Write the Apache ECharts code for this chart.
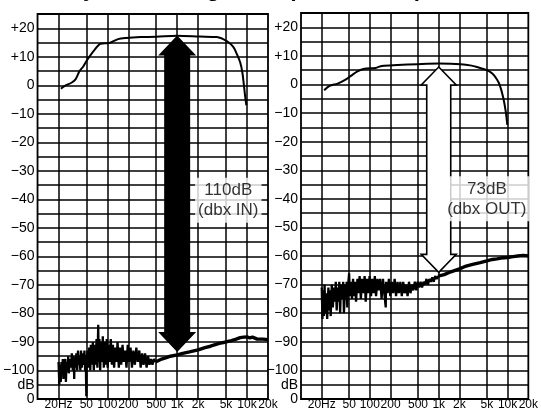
<html>
<head>
    <meta charset="UTF-8">
    <title>Dynamic range</title>
    <script src="https://cdn.jsdelivr.net/npm/echarts@6/dist/echarts.min.js"></script>
    <style>
        body { margin: 0; padding: 0; background: #fff; }
        #echart { width: 541px; height: 411px; }
    </style>
</head>
<body>
<div id="echart"></div>
<script>
    // frequency grid / labels
    const freqTicks = [20, 50, 100, 200, 500, 1000, 2000, 5000, 10000, 20000];
    const freqLabels = ['20Hz', '50', '100', '200', '500', '1k', '2k', '5k', '10k', '20k'];

    // frequency response (Hz, dB)
    const respIn = [[21.6,-1.2],[24.6,-0.2],[30.6,0.9],[35,2.1],[40,5],[45,6.5],[50,8.4],[56,10.2],[66,12.5],[80,14.6],
        [107,14.8],[142,16.2],[185,16.6],[300,16.9],[500,17],[1000,17.4],[2100,17.1],[3700,16.9],[5200,15.4],
        [6400,13.4],[7200,10.8],[8000,8],[8600,4.4],[9400,-3.7],[9800,-7]];
    const respOut = [[21.7,-2],[26,-0.5],[34,0.3],[43,1.5],[53,3],[66,4.6],[83,5.5],[121,5.8],[150,6.5],[250,6.8],
        [500,7.1],[1000,7.3],[2100,7.1],[3000,6.6],[3700,6],[5000,5],[6000,3.8],[6900,2],[7700,-0.2],
        [8700,-4.9],[9400,-9.5],[9900,-14.1]];

    // noise floor, dbx IN
    const noiseInLow = [[20,-97],[20.5,-105],[21,-98],[21.5,-104],[22,-97],[22.5,-101],[23,-96],[23.5,-103],[24,-98],
        [25,-96],[25.5,-104],[26,-97],[27,-100],[27.5,-95],[28,-101],[29,-96],[30,-99],[31,-94],[32,-100],[33,-95],
        [33.5,-103],[34,-96],[35,-99],[36,-94],[37,-100],[38,-93],[39,-98],[40,-95],[41,-100],[42,-93],[43,-99],
        [44,-94],[46,-98],[47,-93],[48,-100],[49,-95],[50,-109],[50.5,-96],[52,-93],[53,-99],[55,-92],[57,-100],
        [58,-91],[60,-98],[62,-90],[64,-100],[66,-91],[68,-98],[70,-89],[72,-99],[74,-84],[75,-97],[77,-89],
        [79,-100],[81,-90],[84,-97],[86,-88],[89,-99],[92,-90],[95,-98],[98,-89],[101,-99],[105,-91],[108,-97],
        [112,-89],[116,-98],[120,-91],[125,-99],[130,-92],[135,-97],[140,-90],[146,-99],[152,-92],[158,-98],
        [165,-91],[172,-97],[180,-93],[188,-99],[196,-91],[205,-97],[215,-92],[225,-99],[236,-93],[248,-98],
        [260,-92],[273,-97],[287,-93],[300,-99],[315,-94],[330,-98],[347,-94],[365,-99],[383,-95],[402,-98],
        [422,-96],[443,-98],[465,-96],[490,-97]];
    const noiseInHigh = [[490,-97],[600,-96],[700,-95.5],[800,-95],[1000,-94.5],[1200,-94],[1500,-93.5],[2000,-92.8],
        [2500,-92],[3000,-91.5],[4000,-90.5],[5000,-90],[6000,-89.5],[7000,-89],[8000,-88.5],[9000,-88.3],
        [10000,-88.2],[11000,-88.6],[12000,-88.3],[14000,-89],[17000,-89],[20000,-89.2]];

    // noise floor, dbx OUT
    const noiseOutLow = [[20,-71],[20.5,-82],[21,-72],[21.5,-81],[22,-70],[22.5,-80],[23,-73],[24,-82],[25,-71],
        [25.5,-79],[26,-72],[27,-81],[28,-70],[29,-78],[30,-71],[31,-76],[32,-69],[33,-79],[34,-71],[35,-76],
        [36,-69],[37,-80],[38,-70],[40,-75],[41,-69],[42,-80],[44,-70],[45,-74],[46,-69],[47,-78],[48,-71],
        [50,-66],[51,-74],[53,-69],[55,-75],[57,-68],[59,-74],[61,-69],[63,-76],[66,-68],[68,-73],[71,-67],
        [74,-75],[77,-68],[80,-73],[84,-67],[87,-76],[91,-68],[95,-73],[99,-67],[104,-74],[108,-68],[113,-73],
        [118,-67],[123,-74],[129,-68],[135,-72],[141,-68],[148,-75],[155,-68],[162,-73],[170,-78],[172,-69],
        [180,-73],[189,-68],[198,-74],[208,-69],[218,-73],[229,-68],[240,-74],[252,-69],[264,-73],[277,-69],
        [291,-74],[305,-69],[320,-73],[336,-70],[353,-74],[370,-69],[389,-73],[408,-70],[428,-72],[450,-69],
        [472,-72],[495,-69],[520,-71],[546,-69],[573,-71],[602,-69],[632,-70],[664,-68],[697,-70],[732,-68],
        [768,-69],[806,-67.5],[846,-69],[888,-67],[933,-68],[980,-67]];
    const noiseOutHigh = [[980,-67],[1200,-66.5],[1500,-65.5],[2000,-64.5],[2500,-63.5],[3000,-63],[4000,-62.3],
        [5000,-61.7],[6000,-61.2],[7000,-61],[8000,-60.7],[10000,-60.5],[12000,-60.2],[14000,-60],[17000,-59.8],
        [20000,-60]];

    // arrows: [freq, top dB, bottom dB]
    const arrowIn = [[1000, 17.5, -93.5]];
    const arrowOut = [[1000, 6.1, -65.7]];

    // notes
    const noteIn = [[5400, -40.3, '110dB\n(dbx IN)']];
    const noteOut = [[5000, -40, '73dB\n(dbx OUT)']];

    const FONT = 'Liberation Sans';

    function yFmt(v) {
        if (v === -110) return '0';
        if (v === -105) return 'dB';
        if (v % 10 !== 0) return '';
        if (v > 0) return '+' + v;
        if (v < 0) return '\u2212' + (-v);
        return '0';
    }

    function makeArrow(filled) {
        return function (params, api) {
            const f = api.value(0);
            const t = api.coord([f, api.value(1)]);
            const b = api.coord([f, api.value(2)]);
            const cx = t[0];
            const hl = filled ? 20 : 18, hw = filled ? 19 : 17.5, sw = filled ? 13 : 12;
            const pts = [
                [cx, t[1]], [cx + hw, t[1] + hl], [cx + sw, t[1] + hl], [cx + sw, b[1] - hl],
                [cx + hw, b[1] - hl], [cx, b[1]], [cx - hw, b[1] - hl], [cx - sw, b[1] - hl],
                [cx - sw, t[1] + hl], [cx - hw, t[1] + hl]
            ];
            return {
                type: 'polygon',
                shape: { points: pts },
                style: filled ? { fill: '#000' } : { fill: '#fff', stroke: '#000', lineWidth: 1.6 }
            };
        };
    }

    function xAxis(idx) {
        return {
            type: 'log', gridIndex: idx, min: 10, max: 20000, logBase: 10,
            axisLine: { show: false }, axisTick: { show: false },
            splitLine: { show: false }, minorSplitLine: { show: false },
            axisLabel: {
                customValues: freqTicks,
                formatter: v => freqLabels[freqTicks.findIndex(t => Math.abs(t - v) < 0.5)] || '',
                color: '#000', fontFamily: FONT, fontSize: 12, margin: 0
            }
        };
    }

    function yAxis(idx) {
        return {
            type: 'value', gridIndex: idx, min: -110, max: 25, interval: 5,
            axisLine: { show: false }, axisTick: { show: false },
            splitLine: { show: true, lineStyle: { color: '#000', width: 1.5 } },
            axisLabel: { formatter: yFmt, color: '#000', fontFamily: FONT, fontSize: 14, margin: 3 }
        };
    }

    function gridLines() {
        return {
            silent: true, symbol: 'none', animation: false,
            label: { show: false },
            lineStyle: { color: '#000', width: 1.5, type: 'solid' },
            data: freqTicks.slice(0, -1).map(f => ({ xAxis: f }))
        };
    }

    function lineSeries(idx, data, width, smooth, extra) {
        return Object.assign({
            type: 'line', xAxisIndex: idx, yAxisIndex: idx, data: data,
            symbol: 'none', smooth: smooth, z: 3,
            lineStyle: { color: '#000', width: width }
        }, extra || {});
    }

    function noteSeries(idx, data) {
        return {
            type: 'scatter', xAxisIndex: idx, yAxisIndex: idx, data: data,
            symbolSize: 0, z: 10,
            label: {
                show: true, position: 'inside',
                formatter: p => p.data[2],
                backgroundColor: '#fff', padding: [3, 3, 2, 3],
                color: '#000', fontFamily: FONT, fontSize: 17, lineHeight: 20, align: 'center'
            }
        };
    }

    const ec = echarts.init(document.getElementById('echart'));
    ec.setOption({
        backgroundColor: '#fff',
        animation: false,
        title: {
            text: 'Dynamic Range Test (dbx IN/OUT)',
            left: 62, top: -26,
            textStyle: { fontFamily: FONT, fontSize: 22, fontWeight: 'bold', color: '#000' }
        },
        grid: [
            { left: 36, top: 14, width: 232, height: 389, show: true, borderColor: '#000', borderWidth: 1.8 },
            { left: 301, top: 13, width: 231, height: 389, show: true, borderColor: '#000', borderWidth: 1.8 }
        ],
        xAxis: [xAxis(0), xAxis(1)],
        yAxis: [yAxis(0), yAxis(1)],
        series: [
            lineSeries(0, respIn, 2, 0.3, { markLine: gridLines() }),
            lineSeries(0, noiseInLow, 2.3, false),
            lineSeries(0, noiseInHigh, 3.4, false),
            {
                type: 'custom', xAxisIndex: 0, yAxisIndex: 0, data: arrowIn, z: 5,
                encode: { x: 0, y: [1, 2] }, renderItem: makeArrow(true)
            },
            noteSeries(0, noteIn),

            lineSeries(1, respOut, 2, 0.3, { markLine: gridLines() }),
            lineSeries(1, noiseOutLow, 2.3, false),
            lineSeries(1, noiseOutHigh, 3.4, false),
            {
                type: 'custom', xAxisIndex: 1, yAxisIndex: 1, data: arrowOut, z: 5,
                encode: { x: 0, y: [1, 2] }, renderItem: makeArrow(false)
            },
            noteSeries(1, noteOut)
        ]
    });
</script>
</body>
</html>
